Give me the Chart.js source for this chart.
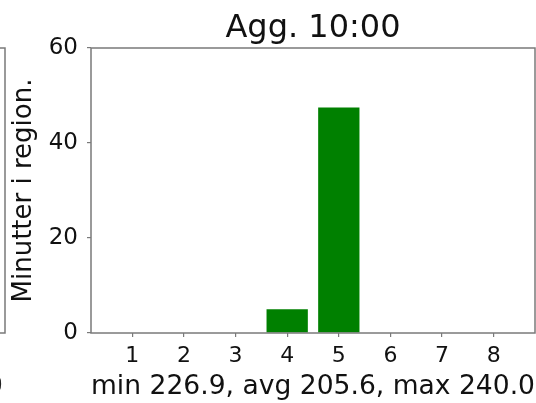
<!DOCTYPE html>
<html>
<head>
<meta charset="utf-8">
<script src="https://cdn.jsdelivr.net/npm/chart.js@4.4.1/dist/chart.umd.min.js"></script>
<style>
  html, body { margin: 0; padding: 0; background: #fff; }
  #wrap { width: 536px; height: 403px; }
</style>
</head>
<body>
<div id="wrap"><canvas id="chart" width="536" height="403"></canvas></div>
<script>
// minutes spent in each region, aggregated for 10:00
var regions = [1, 2, 3, 4, 5, 6, 7, 8];
var minutes = [0, 0, 0, 5, 47.5, 0, 0, 0];
var yTicks = [0, 20, 40, 60];
var title = 'Agg. 10:00';
var yLabel = 'Minutter i region.';
var xLabel = 'min 226.9, avg 205.6, max 240.0';

var spineColor = '#7a7a7a';
var font = 'DejaVu Sans';

// axes frame on all four sides, title centred over the plot,
// plus the edge of the panel to the left
var framePlugin = {
    id: 'frame',
    afterDraw: function(chart) {
        var ctx = chart.ctx;
        var a = chart.chartArea;
        ctx.save();
        ctx.strokeStyle = spineColor;
        ctx.lineWidth = 1.5;
        ctx.strokeRect(a.left, a.top, a.right - a.left, a.bottom - a.top);

        ctx.fillStyle = '#111';
        ctx.font = '32px "' + font + '"';
        ctx.textAlign = 'center';
        ctx.textBaseline = 'alphabetic';
        ctx.fillText(title, (a.left + a.right) / 2, 37);

        // neighbouring subplot, mostly off canvas
        ctx.beginPath();
        ctx.moveTo(-2, a.top);
        ctx.lineTo(5, a.top);
        ctx.lineTo(5, a.bottom);
        ctx.lineTo(-2, a.bottom);
        ctx.stroke();
        ctx.fillStyle = '#222';
        ctx.font = '27px "' + font + '"';
        ctx.textAlign = 'right';
        ctx.textBaseline = 'middle';
        ctx.fillText('0', 3, 387);
        ctx.restore();
    }
};

var ctx = document.getElementById('chart');
var chart = new Chart(ctx, {
    type: 'bar',
    data: {
        datasets: [{
            data: regions.map(function(r, i) { return {x: r, y: minutes[i]}; }),
            backgroundColor: '#008000',
            borderWidth: 0,
            barPercentage: 0.8,
            categoryPercentage: 1.0
        }]
    },
    options: {
        responsive: false,
        animation: false,
        layout: { padding: { left: 0, right: 1, top: 48, bottom: 0 } },
        plugins: {
            legend: { display: false },
            tooltip: { enabled: false },
            title: { display: false }
        },
        scales: {
            x: {
                type: 'linear',
                offset: false,
                min: 0.2,
                max: 8.8,
                afterBuildTicks: function(scale) {
                    scale.ticks = regions.map(function(v) { return {value: v}; });
                },
                afterFit: function(scale) { scale.height = 70; },
                grid: {
                    offset: false,
                    drawOnChartArea: false,
                    drawTicks: true,
                    tickLength: 4,
                    color: spineColor,
                    lineWidth: 1.2
                },
                border: { display: false },
                ticks: {
                    color: '#111',
                    padding: 6,
                    maxRotation: 0,
                    font: { family: font, size: 22 }
                },
                title: {
                    display: true,
                    text: xLabel,
                    color: '#111',
                    font: { family: font, size: 27, lineHeight: 1.2 },
                    padding: { top: 0, bottom: 0 }
                }
            },
            y: {
                min: 0,
                max: 60,
                afterBuildTicks: function(scale) {
                    scale.ticks = yTicks.map(function(v) { return {value: v}; });
                },
                afterFit: function(scale) { scale.width = 91; },
                grid: {
                    drawOnChartArea: false,
                    drawTicks: true,
                    tickLength: 4,
                    color: spineColor,
                    lineWidth: 1.2
                },
                border: { display: false },
                ticks: {
                    color: '#111',
                    padding: 9,
                    font: { family: font, size: 23 }
                },
                title: {
                    display: true,
                    text: yLabel,
                    color: '#111',
                    font: { family: font, size: 26, lineHeight: 1.2 },
                    padding: { top: 9, bottom: 0 }
                }
            }
        }
    },
    plugins: [framePlugin]
});
</script>
</body>
</html>
